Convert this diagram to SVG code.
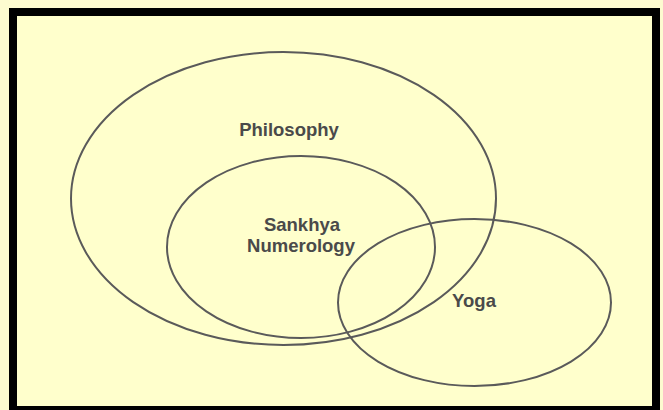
<svg xmlns="http://www.w3.org/2000/svg" width="663" height="410" viewBox="0 0 663 410">
<style>
.e{fill:none;stroke:#5a5a5a;stroke-width:2}
.t{font-family:"Liberation Sans",Arial,sans-serif;font-weight:bold;font-size:18.5px;fill:#4a4a4a;text-anchor:middle}
</style>
<rect width="663" height="410" fill="#fdfbd0"/>
<rect x="13" y="12" width="643" height="398" fill="#ffffcc" stroke="#000" stroke-width="8"/>
<g id="philosophy"><ellipse class="e" cx="283.5" cy="198.5" rx="212.5" ry="146.5"/><text class="t" x="289" y="136">Philosophy</text></g>
<g id="sankhya"><ellipse class="e" cx="301" cy="247" rx="134" ry="91"/><text class="t" x="302" y="231">Sankhya</text><text class="t" x="301" y="252">Numerology</text></g>
<g id="yoga"><ellipse class="e" cx="474.5" cy="302.5" rx="136.5" ry="83.5"/><text class="t" x="474" y="307">Yoga</text></g>
<g id="connectors"/>
</svg>
